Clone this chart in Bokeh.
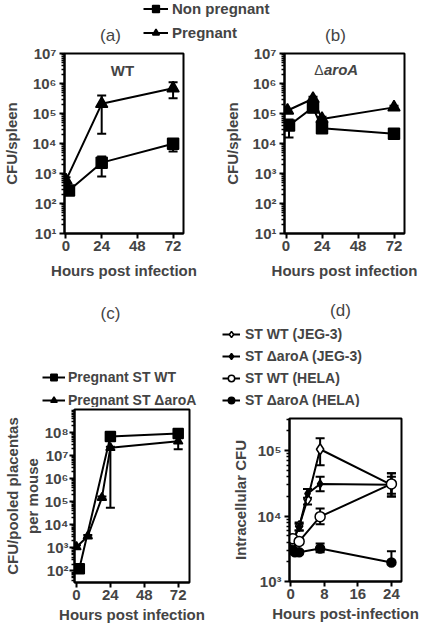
from bokeh.plotting import figure
from bokeh.layouts import column, row
from bokeh.models import (Range1d, FixedTicker, CustomJSTickFormatter, Legend, LegendItem,
                          Whisker, ColumnDataSource, Label, TeeHead, Spacer)
from bokeh.embed import file_html
from bokeh.resources import INLINE

FONT = "Liberation Sans"

# ---------------- data ----------------
# (a) WT, CFU/spleen
a_np_t = [2, 24, 72]
a_np_y = [270, 2300, 9800]
a_np_lo = [210, 800, 5400]
a_np_hi = [340, 3700, 13000]
a_p_t = [0, 24, 72]
a_p_y = [590, 210000, 690000]
a_p_lo = [450, 21000, 320000]
a_p_hi = [750, 400000, 1100000]

# (b) aroA, CFU/spleen
b_np_t = [2, 18, 24, 72]
b_np_y = [40000, 160000, 32000, 21000]
b_np_lo = [16000, 110000, 25000, 17000]
b_np_hi = [63000, 210000, 40000, 26000]
b_p_t = [1, 18, 24, 72]
b_p_y = [126000, 310000, 66000, 160000]
b_p_lo = [110000, 260000, 55000, 140000]
b_p_hi = [140000, 360000, 78000, 180000]

# (c) CFU / pooled placentas per mouse
c_wt_t = [2, 24, 72]
c_wt_y = [125, 68000000, 90000000]
c_wt_lo = [110, 60000000, 80000000]
c_wt_hi = [140, 76000000, 110000000]
c_ar_t = [0, 8, 18, 24, 72]
c_ar_y = [1100, 3200, 150000, 22000000, 42000000]
c_ar_lo = [900, 2800, 130000, 55000, 19000000]
c_ar_hi = [1300, 3600, 170000, 24000000, 60000000]

# (d) Intracellular CFU
d_wtj_t = [0.5, 2, 4, 7, 24]
d_wtj_y = [4000, 7000, 18000, 105000, 30000]
d_wtj_lo = [3600, 6000, 15000, 60000, 20000]
d_wtj_hi = [4500, 8000, 26000, 155000, 45000]
d_arj_t = [0.5, 2, 4, 7, 24]
d_arj_y = [4300, 6800, 22000, 31000, 30000]
d_arj_lo = [3900, 6000, 19000, 24000, 22000]
d_arj_hi = [4700, 7600, 26000, 40000, 40000]
d_wth_t = [0.5, 2, 7, 24]
d_wth_y = [4500, 4100, 9800, 31000]
d_wth_lo = [4000, 3700, 7500, 20000]
d_wth_hi = [5000, 4500, 13000, 45000]
d_arh_t = [0.5, 1, 2, 7, 24]
d_arh_y = [3000, 2800, 2800, 3200, 1950]
d_arh_lo = [2700, 2600, 2600, 2800, 1950]
d_arh_hi = [3300, 3000, 3000, 3800, 2900]

x_ticks_72 = [0, 24, 48, 72]
x_ticks_24 = [0, 8, 16, 24]

SUP = CustomJSTickFormatter(code="""
const s = {"0":"\u2070","1":"\u00b9","2":"\u00b2","3":"\u00b3","4":"\u2074","5":"\u2075",
           "6":"\u2076","7":"\u2077","8":"\u2078","9":"\u2079","-":"\u207b"};
const e = Math.round(Math.log10(tick));
return "10" + String(e).split("").map(c => s[c]).join("");
""")


def panel(width, height, left, right, top, bottom, xr, yr, xticks, emin, emax,
          xlabel, ylabel, ylab_standoff, xlab_standoff):
    p = figure(width=width, height=height, x_range=Range1d(*xr), y_range=Range1d(*yr),
               y_axis_type="log", output_backend="svg", toolbar_location=None,
               min_border_left=left, min_border_right=right,
               min_border_top=top, min_border_bottom=bottom)
    p.grid.visible = False
    p.outline_line_color = "black"
    p.outline_line_width = 2
    p.xaxis.ticker = FixedTicker(ticks=xticks, minor_ticks=[])
    majors = [10.0 ** k for k in range(emin, emax + 1)]
    minors = [m * 10.0 ** k for k in range(emin - 1, emax + 1) for m in range(2, 10)]
    p.yaxis.ticker = FixedTicker(ticks=majors, minor_ticks=minors)
    p.yaxis.formatter = SUP
    for ax in (p.xaxis[0], p.yaxis[0]):
        ax.axis_line_width = 2
        ax.major_tick_line_width = 2
        ax.minor_tick_line_width = 1.5
        ax.major_tick_in = 0
        ax.major_tick_out = 5
        ax.minor_tick_in = 0
        ax.minor_tick_out = 3
        ax.major_label_text_font = FONT
        ax.major_label_text_font_style = "bold"
        ax.major_label_text_font_size = "15px"
        ax.axis_label_text_font = FONT
        ax.axis_label_text_font_style = "bold"
        ax.axis_label_text_font_size = "15px"
    p.xaxis.major_label_standoff = 2
    p.xaxis.axis_label_standoff = xlab_standoff
    p.yaxis.major_label_standoff = 3
    p.yaxis.axis_label_standoff = ylab_standoff
    p.xaxis.axis_label = xlabel
    p.yaxis.axis_label = ylabel
    return p


def series(p, t, y, lo, hi, marker, size, fill="black"):
    src = ColumnDataSource(dict(t=t, y=y, lo=lo, hi=hi))
    p.add_layout(Whisker(source=src, base="t", lower="lo", upper="hi", line_width=2,
                         line_color="black",
                         upper_head=TeeHead(size=9, line_width=2, line_color="black"),
                         lower_head=TeeHead(size=9, line_width=2, line_color="black")))
    ln = p.line("t", "y", source=src, line_color="black", line_width=2)
    sc = p.scatter("t", "y", source=src, marker=marker, size=size, line_color="black",
                   line_width=1.5, fill_color=fill)
    return [ln, sc]


def legend(items, x, y, size, glyph_w, item_h, spacing, standoff):
    return Legend(items=[LegendItem(label=l, renderers=r) for l, r in items],
                  location=(x, y), orientation="vertical", glyph_width=glyph_w,
                  glyph_height=item_h, label_height=item_h, spacing=spacing, padding=0,
                  margin=0, border_line_color=None, background_fill_alpha=0,
                  inactive_fill_alpha=0,
                  label_text_font=FONT, label_text_font_style="bold",
                  label_text_font_size=size, label_standoff=standoff,
                  label_text_baseline="middle")


def strip_fig(h):
    s = figure(width=425, height=h, x_range=Range1d(0, 425), y_range=Range1d(h, 0),
               output_backend="svg", toolbar_location=None, min_border=0,
               x_axis_location=None, y_axis_location=None)
    s.outline_line_color = None
    s.grid.visible = False
    return s


def legend_proxy(s, t, y, marker, size, fill="black"):
    ln = s.line(t, y, line_color="black", line_width=2, visible=False)
    sc = s.scatter(t, y, marker=marker, size=size, fill_color=fill, line_color="black",
                   line_width=1.5, visible=False)
    return [ln, sc]


# ---------------- top strip (legend + titles a/b) ----------------
S1 = 44
strip1 = strip_fig(S1)
strip1.add_layout(legend([("Non pregnant", legend_proxy(strip1, a_np_t, a_np_y, "square", 11)),
                          ("Pregnant", legend_proxy(strip1, a_p_t, a_p_y, "triangle", 12))],
                         143, 3, "15px", 25, 17, 7, 4))
strip1.add_layout(Label(x=110, y=34.5, text="(a)", text_font=FONT, text_font_size="17px",
                        text_align="center", text_baseline="middle"))
strip1.add_layout(Label(x=335, y=34.5, text="(b)", text_font=FONT, text_font_size="17px",
                        text_align="center", text_baseline="middle"))

# ---------------- (a) ----------------
R1 = 252
pa = panel(212, R1, 62, 29, 9, R1 - 9 - 180, (-1, 79), (10, 1e7), x_ticks_72, 1, 7,
           "Hours post infection", "CFU/spleen", 9, 8)
series(pa, a_np_t, a_np_y, a_np_lo, a_np_hi, "square", 11)
series(pa, a_p_t, a_p_y, a_p_lo, a_p_hi, "triangle", 12)
pa.add_layout(Label(x=58, y=163, x_units="screen", y_units="screen", text="WT",
                    text_font=FONT, text_font_style="bold", text_font_size="15px",
                    text_align="center", text_baseline="middle"))

# ---------------- (b) ----------------
pb = panel(213, R1, 72, 21, 9, R1 - 9 - 180, (-1, 79), (10, 1e7), x_ticks_72, 1, 7,
           "Hours post infection", "CFU/spleen", 8, 8)
series(pb, b_np_t, b_np_y, b_np_lo, b_np_hi, "square", 11)
series(pb, b_p_t, b_p_y, b_p_lo, b_p_hi, "triangle", 12)
pb.add_layout(Label(x=39, y=164, x_units="screen", y_units="screen", text="\u0394",
                    text_font=FONT, text_font_size="14px",
                    text_align="right", text_baseline="middle"))
pb.add_layout(Label(x=39.5, y=164, x_units="screen", y_units="screen", text="aroA",
                    text_font=FONT, text_font_style="bold italic", text_font_size="15px",
                    text_align="left", text_baseline="middle"))

# ---------------- second strip (legends c/d + titles) ----------------
S2 = 111
strip2 = strip_fig(S2)
strip2.add_layout(Label(x=110, y=17, text="(c)", text_font=FONT, text_font_size="17px",
                        text_align="center", text_baseline="middle"))
strip2.add_layout(Label(x=340, y=14, text="(d)", text_font=FONT, text_font_size="17px",
                        text_align="center", text_baseline="middle"))
strip2.add_layout(legend(
    [("Pregnant ST WT", legend_proxy(strip2, c_wt_t, c_wt_y, "square", 10)),
     ("Pregnant ST \u0394aroA", legend_proxy(strip2, c_ar_t, c_ar_y, "triangle", 9))],
    42, -1, "14px", 23, 16, 7, 3))
strip2.add_layout(legend(
    [("ST WT (JEG-3)", legend_proxy(strip2, d_wtj_t, d_wtj_y, "diamond", 11, "white")),
     ("ST \u0394aroA (JEG-3)", legend_proxy(strip2, d_arj_t, d_arj_y, "diamond", 8)),
     ("ST WT (HELA)", legend_proxy(strip2, d_wth_t, d_wth_y, "circle", 10, "white")),
     ("ST \u0394aroA (HELA)", legend_proxy(strip2, d_arh_t, d_arh_y, "circle", 9))],
    222, -1, "14px", 18, 16, 6, 5))

# ---------------- (c) ----------------
R2 = 625 - S1 - R1 - S2
pc = panel(212, R2, 73, 23, 2, R2 - 2 - 173, (-1.4, 80), (10 ** 1.5, 1e9), x_ticks_72, 2, 8,
           "Hours post infection", "CFU/pooled placentas\nper mouse", 0, 3)
pc.yaxis.major_label_standoff = 1
series(pc, c_wt_t, c_wt_y, c_wt_lo, c_wt_hi, "square", 10)
series(pc, c_ar_t, c_ar_y, c_ar_lo, c_ar_hi, "triangle", 9)

# ---------------- (d) ----------------
DOFF = 9
R2d = R2 - DOFF
pd_ = panel(213, R2d, 77, 24, 2, R2d - 2 - 163, (-0.3, 26.4), (1000, 310000), x_ticks_24, 3, 5,
            "Hours post-infection", "Intracellular CFU", 5, 3)
series(pd_, d_wtj_t, d_wtj_y, d_wtj_lo, d_wtj_hi, "diamond", 11, "white")
series(pd_, d_arj_t, d_arj_y, d_arj_lo, d_arj_hi, "diamond", 8, "black")
series(pd_, d_wth_t, d_wth_y, d_wth_lo, d_wth_hi, "circle", 10, "white")
series(pd_, d_arh_t, d_arh_y, d_arh_lo, d_arh_hi, "circle", 9, "black")

p = column(strip1, row(pa, pb), strip2,
           row(pc, column(Spacer(width=213, height=DOFF), pd_)))
open("out.html", "w").write(file_html(p, INLINE))
